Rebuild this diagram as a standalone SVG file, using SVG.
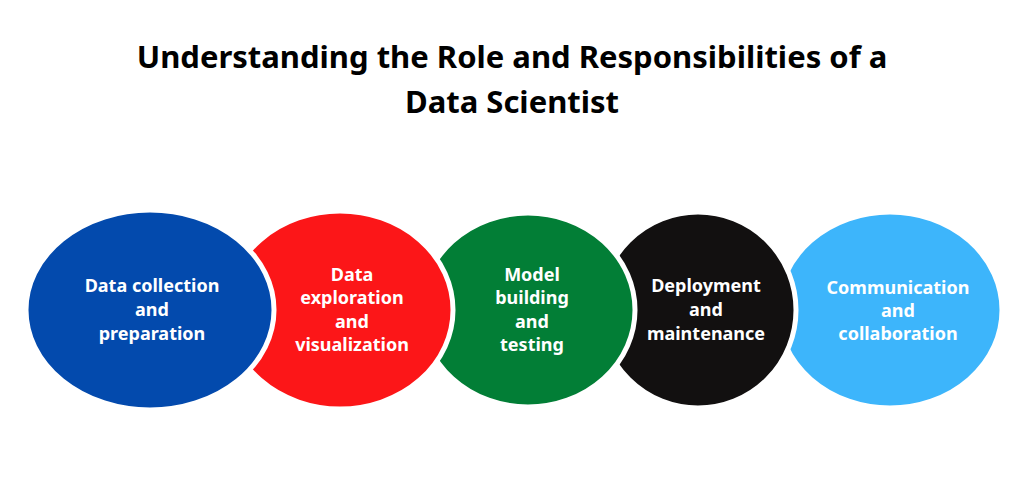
<svg xmlns="http://www.w3.org/2000/svg" width="1024" height="478" viewBox="0 0 1024 478">
<style>
.e{stroke:#fff;stroke-width:5}
.t{font-family:"Noto Sans","Open Sans",sans-serif;font-weight:bold;font-size:18px;fill:#fff;text-anchor:middle}
.h{font-family:"Noto Sans","Open Sans",sans-serif;font-weight:bold;font-size:31px;fill:#000;text-anchor:middle}
</style>
<rect width="1024" height="478" fill="#fff"/>
<text class="h" x="512" y="68">Understanding the Role and Responsibilities of a</text>
<text class="h" x="512" y="113">Data Scientist</text>
<g id="n5"><ellipse class="e" cx="890" cy="310" rx="112" ry="98" fill="#3db5fb"/>
<text class="t" x="898" y="294">Communication</text><text class="t" x="898" y="317">and</text><text class="t" x="898" y="340">collaboration</text></g>
<g id="n4"><ellipse class="e" cx="698" cy="310" rx="98" ry="98" fill="#121010"/>
<text class="t" x="706" y="292">Deployment</text><text class="t" x="706" y="316">and</text><text class="t" x="706" y="340">maintenance</text></g>
<g id="n3"><ellipse class="e" cx="528" cy="310" rx="107" ry="97" fill="#027e36"/>
<text class="t" x="532" y="281">Model</text><text class="t" x="532" y="304">building</text><text class="t" x="532" y="328">and</text><text class="t" x="532" y="351">testing</text></g>
<g id="n2"><ellipse class="e" cx="340" cy="310" rx="113" ry="99" fill="#fc1618"/>
<text class="t" x="352" y="281">Data</text><text class="t" x="352" y="304">exploration</text><text class="t" x="352" y="328">and</text><text class="t" x="352" y="351">visualization</text></g>
<g id="n1"><ellipse class="e" cx="150" cy="310" rx="124" ry="100" fill="#034aad"/>
<text class="t" x="152" y="292">Data collection</text><text class="t" x="152" y="316">and</text><text class="t" x="152" y="340">preparation</text></g>
<g id="connectors"/>
</svg>
